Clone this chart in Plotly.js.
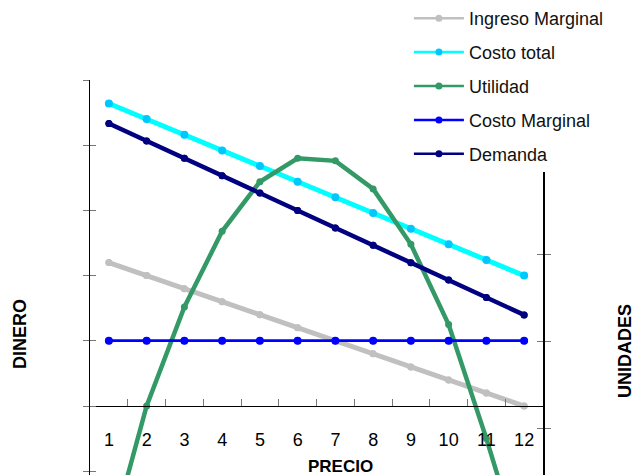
<!DOCTYPE html>
<html>
<head>
<meta charset="utf-8">
<script src="https://cdn.plot.ly/plotly-3.0.1.min.js"></script>
<style>html,body{margin:0;padding:0;background:#fff;}#chart{width:642px;height:475px;}</style>
</head>
<body>
<div id="chart"></div>
<script>
// ---- data ----
const precios = ["1","2","3","4","5","6","7","8","9","10","11","12"];
const ingresoMarginal = [2.2, 2.0, 1.8, 1.6, 1.4, 1.2, 1.0, 0.8, 0.6, 0.4, 0.2, 0.0];
const costoTotal = [4.64, 4.40, 4.16, 3.92, 3.68, 3.44, 3.20, 2.96, 2.72, 2.48, 2.24, 2.00];
const utilidad = [-2.12, 0.0, 1.52, 2.68, 3.44, 3.80, 3.76, 3.33, 2.48, 1.25, -0.5, -2.4];
const costoMarginal = [1, 1, 1, 1, 1, 1, 1, 1, 1, 1, 1, 1];
const demanda = [3.5, 3.3, 3.1, 2.9, 2.7, 2.5, 2.3, 2.1, 1.9, 1.7, 1.5, 1.3];

const names = ["Ingreso Marginal", "Costo total", "Utilidad", "Costo Marginal", "Demanda"];
const series = [ingresoMarginal, costoTotal, utilidad, costoMarginal, demanda];
const lineColors = ["#c0c0c0", "#00ffff", "#339966", "#0000ff", "#000080"];
const markerColors = ["#c0c0c0", "#00c8ff", "#339966", "#0000ff", "#000080"];
const lineWidths = [5, 5, 4.5, 2.5, 4.5];
const markerSizes = [7, 8, 5, 8, 7];
const legendAxes = ["y", "y", "y", "y3", "y4"];
const mainAxes = ["y", "y", "y", "y", "y2"];

const traces = [];
// thin legend copies (drawn underneath)
for (let i = 0; i < names.length; i++) {
  traces.push({
    type: "scatter", mode: "lines+markers", x: precios, y: series[i], name: names[i],
    yaxis: legendAxes[i], legendgroup: "g" + i, showlegend: true,
    line: {color: lineColors[i], width: 2.5},
    marker: {color: markerColors[i], size: 7},
    hoverinfo: "skip", cliponaxis: true
  });
}
// main thick lines
for (let i = 0; i < names.length; i++) {
  traces.push({
    type: "scatter", mode: "lines+markers", x: precios, y: series[i], name: names[i],
    yaxis: mainAxes[i], legendgroup: "g" + i, showlegend: false,
    line: {color: lineColors[i], width: lineWidths[i]},
    marker: {color: markerColors[i], size: markerSizes[i]},
    cliponaxis: true
  });
}

const font = "Liberation Sans, Arial, sans-serif";
const layout = {
  width: 642, height: 475,
  margin: {l: 90, r: 99, t: 80, b: 0, pad: 0},
  paper_bgcolor: "#ffffff", plot_bgcolor: "rgba(0,0,0,0)",
  font: {family: font, size: 18, color: "#000"},
  showlegend: true,
  legend: {
    x: 0.704, y: 1.2025, xanchor: "left", yanchor: "top",
    bgcolor: "#ffffff", borderwidth: 0, tracegroupgap: 7.5,
    itemwidth: 50, font: {family: font, size: 18, color: "#111"}
  },
  xaxis: {
    type: "category", range: [-0.5, 11.5], anchor: "free", position: 0.1747,
    showline: true, linecolor: "#000", linewidth: 1.5,
    ticks: "inside", tickson: "boundaries", ticklen: 7, tickcolor: "#777", tickwidth: 1,
    showgrid: false, zeroline: false, ticklabelstandoff: 17,
    tickfont: {family: font, size: 18, color: "#000"}
  },
  yaxis: {
    range: [-1.058, 5], dtick: 1, tick0: 0, showline: true, linecolor: "#000", linewidth: 1.5,
    ticks: "outside", ticklen: 6, tickcolor: "#777", showticklabels: false,
    showgrid: false, zeroline: false, anchor: "x"
  },
  yaxis3: {
    overlaying: "y", matches: "y", side: "left", anchor: "x", dtick: 1, tick0: 0,
    ticks: "inside", ticklen: 6, tickcolor: "#777", showticklabels: false,
    showline: false, showgrid: false, zeroline: false
  },
  yaxis2: {
    overlaying: "y", side: "right", anchor: "x", range: [-0.54, 4], dtick: 1, tick0: 0,
    showline: true, linecolor: "#000", linewidth: 1.5,
    ticks: "outside", ticklen: 6, tickcolor: "#777", showticklabels: false,
    showgrid: false, zeroline: false
  },
  yaxis4: {
    overlaying: "y", matches: "y2", side: "right", anchor: "x", dtick: 1, tick0: 0,
    ticks: "inside", ticklen: 6, tickcolor: "#777", showticklabels: false,
    showline: false, showgrid: false, zeroline: false
  },
  annotations: [
    {text: "<b>PRECIO</b>", xref: "paper", yref: "paper", x: (340 - 90) / 453, y: (475 - 466.5) / 395,
     xanchor: "center", yanchor: "middle", showarrow: false, font: {family: font, size: 17, color: "#000"}},
    {text: "<b>DINERO</b>", xref: "paper", yref: "paper", x: (20 - 90) / 453, y: (475 - 334) / 395,
     xanchor: "center", yanchor: "middle", textangle: -90, showarrow: false, font: {family: font, size: 18, color: "#000"}},
    {text: "<b>UNIDADES</b>", xref: "paper", yref: "paper", x: (625 - 90) / 453, y: (475 - 351) / 395,
     xanchor: "center", yanchor: "middle", textangle: -90, showarrow: false, font: {family: font, size: 18, color: "#000"}}
  ]
};

Plotly.newPlot("chart", traces, layout, {displayModeBar: false, staticPlot: true});
</script>
</body>
</html>
